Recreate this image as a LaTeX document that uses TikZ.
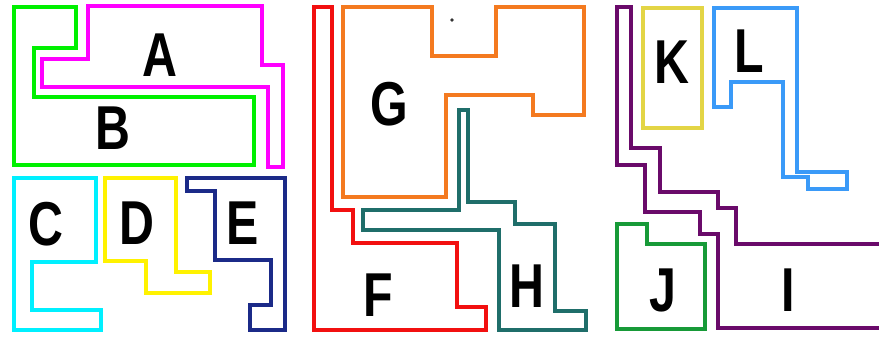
\documentclass[tikz,border=0pt]{standalone}
\usepackage{fontspec}
\newfontfamily\lblfont[FakeStretch=0.78]{Liberation Sans}
\definecolor{cA}{HTML}{FF00FF}
\definecolor{cB}{HTML}{00F000}
\definecolor{cC}{HTML}{00F0FF}
\definecolor{cD}{HTML}{FFF200}
\definecolor{cE}{HTML}{1B2A88}
\definecolor{cF}{HTML}{F21010}
\definecolor{cG}{HTML}{F47A20}
\definecolor{cH}{HTML}{1F6E6A}
\definecolor{cI}{HTML}{6A0A6A}
\definecolor{cJ}{HTML}{179A38}
\definecolor{cK}{HTML}{E3D545}
\definecolor{cL}{HTML}{3A9AF8}
\tikzset{
  piece/.style={line width=4.5pt, line join=miter},
  lbl/.style={font=\lblfont\bfseries\fontsize{62}{62}\selectfont, text=black, inner sep=0pt}
}
\begin{document}
\begin{tikzpicture}[x=1pt,y=-1pt]
\useasboundingbox (0,0) rectangle (879,337);
\fill[white] (0,0) rectangle (879,337);
\clip (0,0) rectangle (879,337);
% A
\draw[piece,cA] (88,6) -- (262,6) -- (262,65) -- (283,65) -- (283,167) -- (268,167) -- (268,87) -- (42,87) -- (42,59) -- (88,59) -- cycle;
% B
\draw[piece,cB] (14,7) -- (76,7) -- (76,48) -- (34,48) -- (34,97) -- (254,97) -- (254,165) -- (14,165) -- cycle;
% C
\draw[piece,cC] (14,178) -- (96,178) -- (96,262) -- (32,262) -- (32,310) -- (101,310) -- (101,330) -- (14,330) -- cycle;
% D
\draw[piece,cD] (105,178) -- (176,178) -- (176,272) -- (210,272) -- (210,293) -- (146,293) -- (146,261) -- (105,261) -- cycle;
% E
\draw[piece,cE] (187,178) -- (285,178) -- (285,330) -- (250,330) -- (250,305) -- (271,305) -- (271,260) -- (215,260) -- (215,191) -- (187,191) -- cycle;
% F
\draw[piece,cF] (314,7) -- (332,7) -- (332,210) -- (353,210) -- (353,243) -- (457,243) -- (457,307) -- (486,307) -- (486,330) -- (314,330) -- cycle;
% G
\draw[piece,cG] (343,7) -- (432,7) -- (432,56) -- (496,56) -- (496,7) -- (584,7) -- (584,115) -- (533,115) -- (533,95) -- (446,95) -- (446,197) -- (343,197) -- cycle;
\fill[black!80] (452,20) circle (1.9);
% H
\draw[piece,cH] (459,110) -- (468,110) -- (468,202) -- (515,202) -- (515,224) -- (555,224) -- (555,311) -- (586,311) -- (586,330) -- (499,330) -- (499,230) -- (363,230) -- (363,210) -- (459,210) -- cycle;
% I
\draw[piece,cI] (617,7) -- (631,7) -- (631,148) -- (660,148) -- (660,192) -- (718,192) -- (718,208) -- (736,208) -- (736,244) -- (900,244) -- (900,328) -- (718,328) -- (718,234) -- (700,234) -- (700,212) -- (645,212) -- (645,165) -- (617,165) -- cycle;
% J
\draw[piece,cJ] (617,224) -- (647,224) -- (647,244) -- (705,244) -- (705,329) -- (617,329) -- cycle;
% K
\draw[piece,cK] (643,8) rectangle (702,128);
% L
\draw[piece,cL] (714,8) -- (797,8) -- (797,172) -- (847,172) -- (847,189) -- (808,189) -- (808,177) -- (783,177) -- (783,82) -- (731,82) -- (731,107) -- (714,107) -- cycle;
% labels
\node[lbl] (la) at (160,55) {A};
\node[lbl] (lb) at (113,128) {B};
\node[lbl] (lc) at (46,224) {C};
\node[lbl] (ld) at (137,223) {D};
\node[lbl] (le) at (243,223) {E};
\node[lbl] (lf) at (378,295) {F};
\node[lbl] (lg) at (389,104) {G};
\node[lbl] (lh) at (527,286) {H};
\node[lbl] (li) at (788,290) {I};
\node[lbl] (lj) at (663,290) {J};
\node[lbl] (lk) at (672,62) {K};
\node[lbl] (ll) at (749,51) {L};
\end{tikzpicture}
\end{document}
